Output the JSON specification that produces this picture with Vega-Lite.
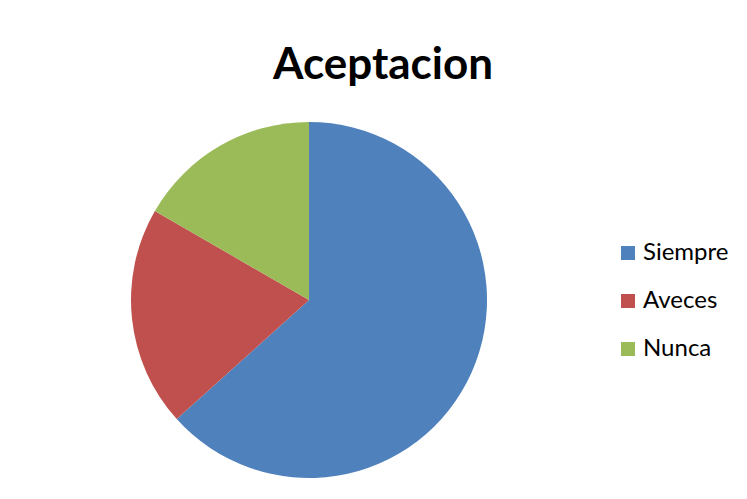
{
  "$schema": "https://vega.github.io/schema/vega-lite/v6.json",
  "autosize": {"type": "none"},
  "width": 356,
  "height": 356,
  "padding": {"left": 131, "top": 122, "right": 260, "bottom": 21},
  "background": "white",
  "config": {"view": {"stroke": null}},
  "title": {
    "text": "Aceptacion",
    "font": "Lato",
    "fontSize": 44,
    "fontWeight": "bold",
    "color": "black",
    "anchor": "middle",
    "dx": 74,
    "offset": 34
  },
  "data": {
    "values": [
      {"categoria": "Siempre", "valor": 19, "orden": 1},
      {"categoria": "Aveces", "valor": 6, "orden": 2},
      {"categoria": "Nunca", "valor": 5, "orden": 3}
    ]
  },
  "mark": {"type": "arc"},
  "encoding": {
    "theta": {"field": "valor", "type": "quantitative", "stack": true},
    "order": {"field": "orden", "type": "quantitative"},
    "color": {
      "field": "categoria",
      "type": "nominal",
      "scale": {"domain": ["Siempre", "Aveces", "Nunca"], "range": ["#4F81BD", "#C0504D", "#9BBB59"]},
      "legend": {
        "title": null,
        "orient": "none",
        "legendX": 485,
        "legendY": 119,
        "symbolType": "square",
        "symbolSize": 196,
        "symbolStrokeWidth": 0,
        "symbolOpacity": 1,
        "labelFont": "Lato",
        "labelFontSize": 24,
        "labelColor": "black",
        "labelOffset": 3,
        "rowPadding": 24
      }
    }
  }
}
